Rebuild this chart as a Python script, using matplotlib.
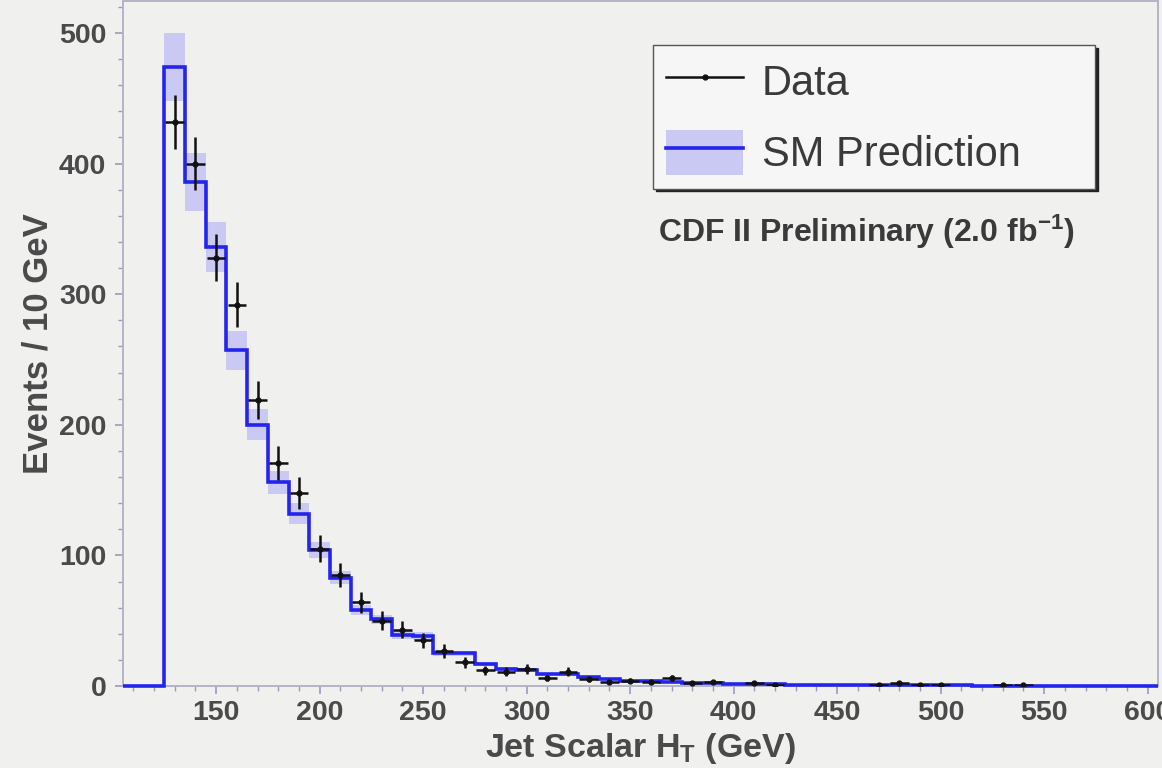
import numpy as np
import matplotlib
matplotlib.use("Agg")
import matplotlib.pyplot as plt
from matplotlib.lines import Line2D
from matplotlib.patches import Patch
from matplotlib.ticker import MultipleLocator

plt.rcParams['font.family'] = ['Liberation Sans', 'DejaVu Sans']
plt.rcParams['mathtext.fontset'] = 'custom'
plt.rcParams['mathtext.bf'] = 'Liberation Sans:bold'
plt.rcParams['mathtext.rm'] = 'Liberation Sans'
plt.rcParams['mathtext.default'] = 'bf'

# ---- data (10 GeV bins from 105 to 605 GeV) ----
bin_low = 105
bin_width = 10
sm_prediction = [0, 0, 474, 386, 336, 257, 200, 156, 132, 104,
                 83, 58, 51, 39, 38, 25, 25, 17, 13, 12,
                 9, 9, 7, 5, 4, 3.5, 3, 2.5, 2.2, 1.8,
                 1.5, 1.3, 1.1, 0.9, 0.8, 0.7, 0.6, 0.5, 0.5, 0.4,
                 0.4, 0.3, 0.3, 0.3, 0.2, 0.2, 0.2, 0.1, 0.1, 0.1]
sm_uncertainty = [0, 0, 26, 22, 19, 15, 12, 9, 8, 6,
                  5, 4, 3.5, 3, 3, 2, 2, 1.5, 1.2, 1,
                  0.8, 0.8, 0.7, 0.5, 0.4, 0.4, 0.3, 0.3, 0.2, 0.2,
                  0.2, 0.1, 0.1, 0.1, 0.1, 0.1, 0.1, 0.1, 0.1, 0.1,
                  0.1, 0.1, 0.1, 0.1, 0.1, 0.1, 0.1, 0.1, 0.1, 0.1]
data_counts = [0, 0, 432, 400, 328, 292, 219, 171, 148, 105,
               85, 64, 50, 43, 35, 27, 18, 12, 11, 13,
               6, 11, 5, 3, 4, 3, 6, 2, 3, 0,
               2, 1, 0, 0, 0, 0, 1, 2, 1, 1,
               0, 0, 1, 1, 0, 0, 0, 0, 0, 0]
x_ticks = [150, 200, 250, 300, 350, 400, 450, 500, 550, 600]
y_ticks = [0, 100, 200, 300, 400, 500]

pred = np.array(sm_prediction, dtype=float)
perr = np.array(sm_uncertainty, dtype=float)
cnt = np.array(data_counts, dtype=float)
edges = bin_low + bin_width * np.arange(len(pred) + 1)
centers = 0.5 * (edges[:-1] + edges[1:])

BG = '#f0f0ef'
BLUE = '#2424ee'
BAND = '#c9c9f3'
TXT = '#4a4a4a'

W, H = 1162, 768
fig = plt.figure(figsize=(W / 100, H / 100), dpi=100, facecolor=BG)
ax = fig.add_axes([123 / W, 82 / H, 1035 / W, 685 / H])
ax.set_facecolor(BG)

# uncertainty band
ax.stairs(pred + perr, edges, baseline=pred - perr, fill=True,
          color=BAND, lw=0, zorder=1)
# SM prediction histogram
ax.stairs(pred, edges, baseline=0, color=BLUE, lw=2.6, zorder=3,
          clip_on=False)

# data points
m = cnt > 0
ax.errorbar(centers[m], cnt[m], yerr=np.sqrt(cnt[m]), xerr=bin_width * 0.45,
            fmt='o', ms=3.5, color='#111111', ecolor='#111111',
            elinewidth=1.8, capsize=0, zorder=4)

ax.set_xlim(edges[0], edges[-1])
ax.set_ylim(0, 524.5)
ax.set_xticks(x_ticks)
ax.set_yticks(y_ticks)
ax.xaxis.set_minor_locator(MultipleLocator(10))
ax.yaxis.set_minor_locator(MultipleLocator(20))

for sp in ax.spines.values():
    sp.set_color('#b4b4c8')
    sp.set_linewidth(1.4)

ax.tick_params(axis='both', which='major', direction='out', length=6,
               width=1.2, color='#9a9ab8', labelsize=20.5, labelcolor=TXT)
ax.tick_params(axis='both', which='minor', direction='out', length=3.5,
               width=1.0, color='#9a9ab8')
ax.tick_params(axis='x', which='major', pad=4)
ax.tick_params(axis='y', which='major', pad=6)
for lab in ax.get_xticklabels() + ax.get_yticklabels():
    lab.set_fontweight('bold')

ax.set_xlabel('Jet Scalar H$_T$ (GeV)', fontsize=24.5, fontweight='bold',
              color=TXT, va='top')
ax.set_ylabel('Events / 10 GeV', fontsize=25, fontweight='bold', color=TXT)
ax.xaxis.set_label_coords(0.5, -0.066)
ax.yaxis.set_label_coords(-0.066, 0.5)

# legend
h_data = Line2D([], [], color='#111111', lw=1.8, marker='o', ms=3.5)
h_sm = (Patch(facecolor=BAND, edgecolor='none'), Line2D([], [], color=BLUE, lw=2.6))
leg = ax.legend([h_data, h_sm], ['Data', 'SM Prediction'],
                loc='upper left', bbox_to_anchor=(0.512, 0.936, 0.427, 0.0),
                mode='expand', fontsize=30, frameon=True, fancybox=False,
                shadow={'color': '#222222', 'alpha': 1.0},
                handlelength=1.85, handleheight=1.3, handletextpad=0.45,
                borderpad=0.32, labelspacing=0.62, borderaxespad=0)
leg.get_frame().set_facecolor('#f6f6f6')
leg.get_frame().set_edgecolor('#555555')
leg.get_frame().set_linewidth(1.0)
for t in leg.get_texts():
    t.set_color('#3a3a3a')

ax.text(0.517, 0.663, 'CDF II Preliminary (2.0 fb$^{-1}$)',
        transform=ax.transAxes, fontsize=23, fontweight='bold',
        color='#3a3a3a', ha='left', va='center')

fig.savefig('out.png', dpi=100, facecolor=BG)
